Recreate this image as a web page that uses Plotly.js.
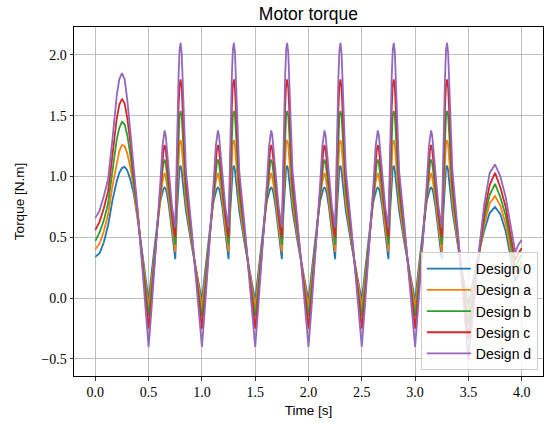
<!DOCTYPE html>
<html>
<head>
<meta charset="utf-8">
<script src="https://cdn.plot.ly/plotly-3.0.1.min.js"></script>
<style>html,body{margin:0;padding:0;background:#fff;}#chart{width:544px;height:426px;}</style>
</head>
<body>
<div id="chart"></div>
<script>
// Time samples [s]
const time = [
  0,0.04,0.08,0.12,0.16,0.2,0.225,0.25,0.275,0.3,0.33,0.36,0.4,0.45,
  0.5,0.53,0.56,0.59,0.61,0.63,0.64,0.65,0.66,0.67,0.69,0.72,0.75,0.765,0.78,0.79,0.8,0.81,0.82,0.835,0.85,0.9,0.95,
  1.0,1.03,1.06,1.09,1.11,1.13,1.14,1.15,1.16,1.17,1.19,1.22,1.25,1.265,1.28,1.29,1.3,1.31,1.32,1.335,1.35,1.4,1.45,
  1.5,1.53,1.56,1.59,1.61,1.63,1.64,1.65,1.66,1.67,1.69,1.72,1.75,1.765,1.78,1.79,1.8,1.81,1.82,1.835,1.85,1.9,1.95,
  2.0,2.03,2.06,2.09,2.11,2.13,2.14,2.15,2.16,2.17,2.19,2.22,2.25,2.265,2.28,2.29,2.3,2.31,2.32,2.335,2.35,2.4,2.45,
  2.5,2.53,2.56,2.59,2.61,2.63,2.64,2.65,2.66,2.67,2.69,2.72,2.75,2.765,2.78,2.79,2.8,2.81,2.82,2.835,2.85,2.9,2.95,
  3.0,3.03,3.06,3.09,3.11,3.13,3.14,3.15,3.16,3.17,3.19,3.22,3.25,3.265,3.28,3.29,3.3,3.31,3.32,3.335,3.35,3.4,3.45,
  3.5,3.55,3.6,3.65,3.7,3.75,3.8,3.85,3.9,3.94,3.97,4.0
];

const design0 = [
  0.34,0.37,0.46,0.60,0.80,0.96,1.03,1.07,1.08,1.05,0.97,0.86,0.64,0.32,
  -0.02,0.22,0.46,0.68,0.80,0.88,0.90,0.91,0.90,0.87,0.76,0.54,0.32,0.70,0.98,1.07,1.09,1.05,0.96,0.82,0.72,0.45,0.20,
  -0.02,0.22,0.46,0.68,0.80,0.88,0.90,0.91,0.90,0.87,0.76,0.54,0.32,0.70,0.98,1.07,1.09,1.05,0.96,0.82,0.72,0.45,0.20,
  -0.02,0.22,0.46,0.68,0.80,0.88,0.90,0.91,0.90,0.87,0.76,0.54,0.32,0.70,0.98,1.07,1.09,1.05,0.96,0.82,0.72,0.45,0.20,
  -0.02,0.22,0.46,0.68,0.80,0.88,0.90,0.91,0.90,0.87,0.76,0.54,0.32,0.70,0.98,1.07,1.09,1.05,0.96,0.82,0.72,0.45,0.20,
  -0.02,0.22,0.46,0.68,0.80,0.88,0.90,0.91,0.90,0.87,0.76,0.54,0.32,0.70,0.98,1.07,1.09,1.05,0.96,0.82,0.72,0.45,0.20,
  -0.02,0.22,0.46,0.68,0.80,0.88,0.90,0.91,0.90,0.87,0.76,0.54,0.32,0.70,0.98,1.07,1.09,1.05,0.96,0.82,0.72,0.44,0.17,
  -0.06,0.17,0.38,0.56,0.70,0.75,0.69,0.55,0.33,0.14,0.20,0.26
];

const designA = [
  0.40,0.45,0.55,0.69,0.92,1.12,1.21,1.26,1.25,1.19,1.07,0.91,0.65,0.28,
  -0.08,0.16,0.42,0.68,0.83,0.96,1.00,1.03,1.00,0.95,0.82,0.59,0.38,0.82,1.16,1.28,1.30,1.26,1.14,0.94,0.79,0.48,0.18,
  -0.08,0.16,0.42,0.68,0.83,0.96,1.00,1.03,1.00,0.95,0.82,0.59,0.38,0.82,1.16,1.28,1.30,1.26,1.14,0.94,0.79,0.48,0.18,
  -0.08,0.16,0.42,0.68,0.83,0.96,1.00,1.03,1.00,0.95,0.82,0.59,0.38,0.82,1.16,1.28,1.30,1.26,1.14,0.94,0.79,0.48,0.18,
  -0.08,0.16,0.42,0.68,0.83,0.96,1.00,1.03,1.00,0.95,0.82,0.59,0.38,0.82,1.16,1.28,1.30,1.26,1.14,0.94,0.79,0.48,0.18,
  -0.08,0.16,0.42,0.68,0.83,0.96,1.00,1.03,1.00,0.95,0.82,0.59,0.38,0.82,1.16,1.28,1.30,1.26,1.14,0.94,0.79,0.48,0.18,
  -0.08,0.16,0.42,0.68,0.83,0.96,1.00,1.03,1.00,0.95,0.82,0.59,0.38,0.82,1.16,1.28,1.30,1.26,1.14,0.94,0.79,0.46,0.14,
  -0.13,0.12,0.38,0.61,0.78,0.84,0.76,0.61,0.38,0.20,0.25,0.30
];

const designB = [
  0.47,0.54,0.64,0.78,1.04,1.30,1.40,1.45,1.43,1.34,1.17,0.97,0.67,0.24,
  -0.15,0.09,0.39,0.67,0.87,1.05,1.11,1.14,1.11,1.04,0.88,0.64,0.44,0.95,1.36,1.50,1.54,1.50,1.35,1.06,0.87,0.52,0.15,
  -0.15,0.09,0.39,0.67,0.87,1.05,1.11,1.14,1.11,1.04,0.88,0.64,0.44,0.95,1.36,1.50,1.54,1.50,1.35,1.06,0.87,0.52,0.15,
  -0.15,0.09,0.39,0.67,0.87,1.05,1.11,1.14,1.11,1.04,0.88,0.64,0.44,0.95,1.36,1.50,1.54,1.50,1.35,1.06,0.87,0.52,0.15,
  -0.15,0.09,0.39,0.67,0.87,1.05,1.11,1.14,1.11,1.04,0.88,0.64,0.44,0.95,1.36,1.50,1.54,1.50,1.35,1.06,0.87,0.52,0.15,
  -0.15,0.09,0.39,0.67,0.87,1.05,1.11,1.14,1.11,1.04,0.88,0.64,0.44,0.95,1.36,1.50,1.54,1.50,1.35,1.06,0.87,0.52,0.15,
  -0.15,0.09,0.39,0.67,0.87,1.05,1.11,1.14,1.11,1.04,0.88,0.64,0.44,0.95,1.36,1.50,1.54,1.50,1.35,1.06,0.87,0.50,0.10,
  -0.22,0.07,0.39,0.66,0.85,0.94,0.83,0.68,0.44,0.25,0.31,0.36
];

const designC = [
  0.56,0.63,0.74,0.88,1.17,1.47,1.59,1.64,1.60,1.48,1.27,1.02,0.68,0.20,
  -0.25,0.02,0.35,0.67,0.90,1.14,1.22,1.26,1.22,1.14,0.94,0.69,0.50,1.09,1.55,1.75,1.80,1.73,1.55,1.19,0.95,0.56,0.13,
  -0.25,0.02,0.35,0.67,0.90,1.14,1.22,1.26,1.22,1.14,0.94,0.69,0.50,1.09,1.55,1.75,1.80,1.73,1.55,1.19,0.95,0.56,0.13,
  -0.25,0.02,0.35,0.67,0.90,1.14,1.22,1.26,1.22,1.14,0.94,0.69,0.50,1.09,1.55,1.75,1.80,1.73,1.55,1.19,0.95,0.56,0.13,
  -0.25,0.02,0.35,0.67,0.90,1.14,1.22,1.26,1.22,1.14,0.94,0.69,0.50,1.09,1.55,1.75,1.80,1.73,1.55,1.19,0.95,0.56,0.13,
  -0.25,0.02,0.35,0.67,0.90,1.14,1.22,1.26,1.22,1.14,0.94,0.69,0.50,1.09,1.55,1.75,1.80,1.73,1.55,1.19,0.95,0.56,0.13,
  -0.25,0.02,0.35,0.67,0.90,1.14,1.22,1.26,1.22,1.14,0.94,0.69,0.50,1.09,1.55,1.75,1.80,1.73,1.55,1.19,0.95,0.53,0.06,
  -0.34,0.02,0.39,0.71,0.93,1.03,0.91,0.75,0.50,0.31,0.37,0.41
];

const designD = [
  0.66,0.72,0.84,0.98,1.30,1.66,1.80,1.85,1.80,1.63,1.36,1.08,0.70,0.15,
  -0.40,-0.06,0.30,0.66,0.95,1.25,1.34,1.38,1.34,1.25,1.02,0.75,0.58,1.25,1.80,2.04,2.10,2.02,1.80,1.35,1.05,0.60,0.10,
  -0.40,-0.06,0.30,0.66,0.95,1.25,1.34,1.38,1.34,1.25,1.02,0.75,0.58,1.25,1.80,2.04,2.10,2.02,1.80,1.35,1.05,0.60,0.10,
  -0.40,-0.06,0.30,0.66,0.95,1.25,1.34,1.38,1.34,1.25,1.02,0.75,0.58,1.25,1.80,2.04,2.10,2.02,1.80,1.35,1.05,0.60,0.10,
  -0.40,-0.06,0.30,0.66,0.95,1.25,1.34,1.38,1.34,1.25,1.02,0.75,0.58,1.25,1.80,2.04,2.10,2.02,1.80,1.35,1.05,0.60,0.10,
  -0.40,-0.06,0.30,0.66,0.95,1.25,1.34,1.38,1.34,1.25,1.02,0.75,0.58,1.25,1.80,2.04,2.10,2.02,1.80,1.35,1.05,0.60,0.10,
  -0.40,-0.06,0.30,0.66,0.95,1.25,1.34,1.38,1.34,1.25,1.02,0.75,0.58,1.25,1.80,2.04,2.10,2.02,1.80,1.35,1.05,0.56,0.02,
  -0.51,-0.05,0.40,0.78,1.03,1.10,1.00,0.83,0.57,0.38,0.44,0.48
];

const seriesNames = ["Design 0","Design a","Design b","Design c","Design d"];
const seriesColors = ["#1f77b4","#ff7f0e","#2ca02c","#d62728","#9467bd"];
const seriesValues = [design0, designA, designB, designC, designD];

const xTickVals = [0,0.5,1,1.5,2,2.5,3,3.5,4];
const xTickText = ["0.0","0.5","1.0","1.5","2.0","2.5","3.0","3.5","4.0"];
const yTickVals = [-0.5,0,0.5,1,1.5,2];
const yTickText = ["\u22120.5","0.0","0.5","1.0","1.5","2.0"];

const traces = seriesValues.map((vals, i) => ({
  x: time, y: vals, type: "scatter", mode: "lines",
  name: seriesNames[i],
  line: {color: seriesColors[i], width: 1.8, shape: "linear"}
}));

const serif = "Liberation Serif, DejaVu Serif, serif";
const sans = "Liberation Sans, DejaVu Sans, sans-serif";

const axisCommon = {
  showline: true, mirror: true, linecolor: "#000", linewidth: 1,
  ticks: "outside", ticklen: 3.5, tickwidth: 0.8, tickcolor: "#000",
  showgrid: true, gridcolor: "#b0b0b0", gridwidth: 0.8,
  zeroline: false, tickfont: {family: serif, size: 14, color: "#000"}
};

const layout = {
  width: 544, height: 426,
  margin: {l: 74, r: 1, t: 27, b: 50, pad: 0},
  paper_bgcolor: "#fff", plot_bgcolor: "#fff",
  showlegend: true,
  title: {text: "Motor torque", font: {family: sans, size: 17.5, color: "#000"},
          x: 0.567, xanchor: "center", y: 0.968, yanchor: "middle"},
  xaxis: Object.assign({}, axisCommon, {
    range: [-0.2, 4.2], tickmode: "array", tickvals: xTickVals, ticktext: xTickText,
    title: {text: "Time [s]", font: {family: sans, size: 13.5, color: "#000"}, standoff: 6}
  }),
  yaxis: Object.assign({}, axisCommon, {
    range: [-0.64, 2.23], tickmode: "array", tickvals: yTickVals, ticktext: yTickText,
    title: {text: "Torque [N.m]", font: {family: sans, size: 13.5, color: "#000"}, standoff: 13}
  }),
  legend: {
    x: 0.989, xanchor: "right", y: 0.017, yanchor: "bottom",
    bgcolor: "rgba(255,255,255,0.8)", bordercolor: "#cccccc", borderwidth: 1,
    font: {family: sans, size: 14, color: "#000"}, tracegroupgap: 0,
    itemwidth: 44
  }
};

Plotly.newPlot("chart", traces, layout, {staticPlot: true, displayModeBar: false});
</script>
</body>
</html>
